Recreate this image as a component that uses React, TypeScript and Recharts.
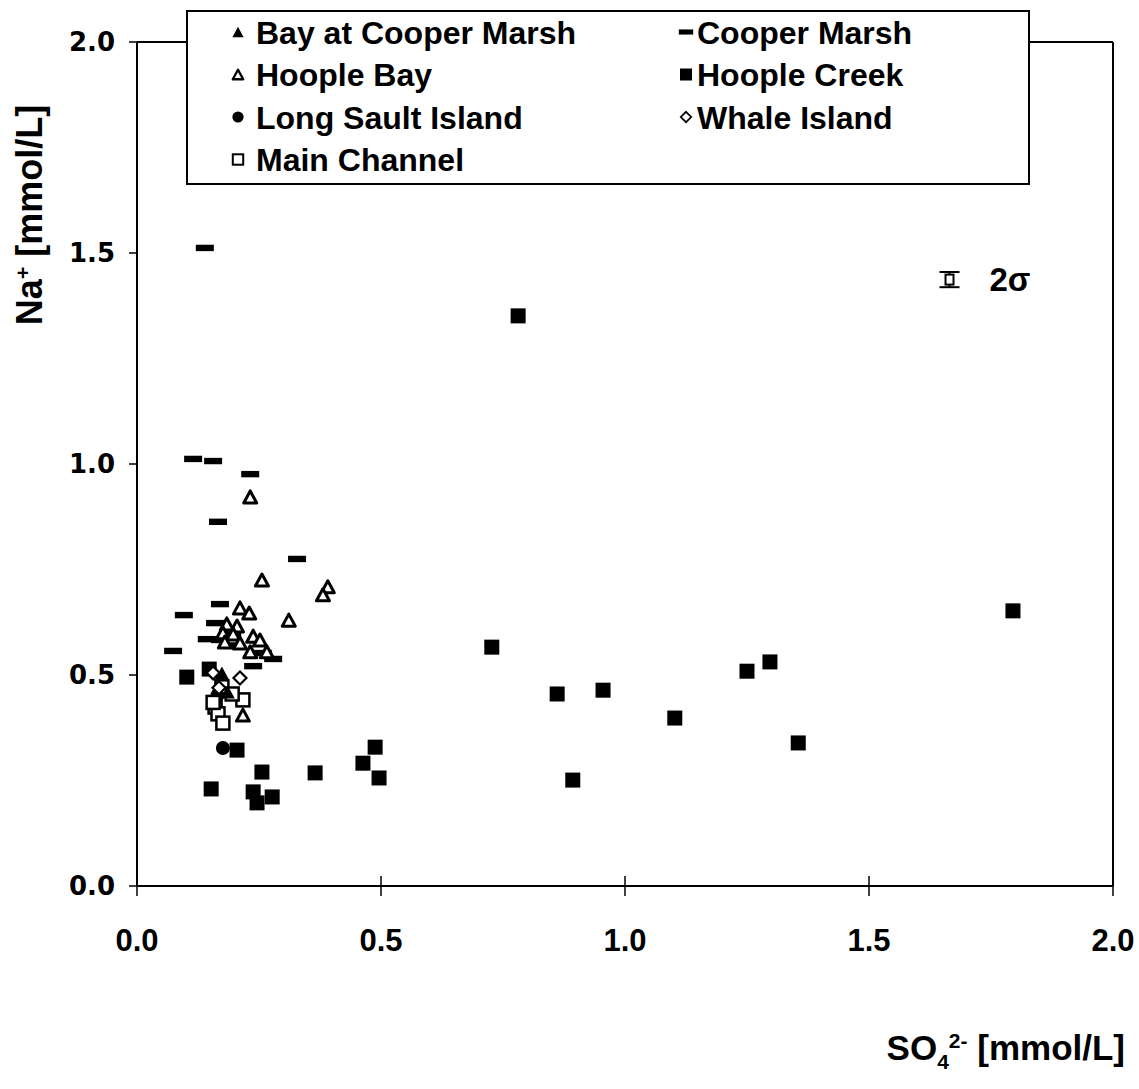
import React from "react";
import {
  ErrorBar,
  Label,
  Legend,
  ReferenceLine,
  Scatter,
  ScatterChart,
  XAxis,
  YAxis,
} from "recharts";

// ── data ──────────────────────────────────────────────────────────────────────
// [SO4 2-, Na+] pairs in mmol/L

const bayAtCooperMarsh: [number, number][] = [
  [0.174, 0.505], [0.186, 0.46],
];

const hoopleBay: [number, number][] = [
  [0.232, 0.922], [0.256, 0.725], [0.391, 0.709], [0.381, 0.69], [0.311, 0.63],
  [0.211, 0.659], [0.23, 0.647], [0.184, 0.621], [0.205, 0.616], [0.176, 0.6],
  [0.197, 0.597], [0.238, 0.592], [0.18, 0.578], [0.211, 0.576], [0.252, 0.583],
  [0.232, 0.555], [0.266, 0.555], [0.217, 0.405],
];

const longSaultIsland: [number, number][] = [
  [0.176, 0.327], [0.165, 0.452],
];

const mainChannel: [number, number][] = [
  [0.174, 0.472], [0.16, 0.424], [0.166, 0.408], [0.217, 0.441], [0.176, 0.386],
  [0.195, 0.455], [0.156, 0.435],
];

const cooperMarsh: [number, number][] = [
  [0.139, 1.512], [0.115, 1.012], [0.156, 1.007], [0.232, 0.976], [0.166, 0.863],
  [0.328, 0.775], [0.17, 0.668], [0.096, 0.642], [0.074, 0.557], [0.238, 0.521],
  [0.279, 0.538], [0.16, 0.623], [0.143, 0.585], [0.17, 0.583], [0.195, 0.6],
  [0.258, 0.552], [0.19, 0.57],
];

const hoopleCreek: [number, number][] = [
  [0.781, 1.351], [0.727, 0.566], [0.861, 0.455], [0.955, 0.464], [1.102, 0.398],
  [0.893, 0.251], [1.25, 0.509], [1.297, 0.531], [1.355, 0.339], [1.795, 0.652],
  [0.488, 0.329], [0.463, 0.291], [0.496, 0.256], [0.365, 0.268], [0.256, 0.27],
  [0.205, 0.322], [0.152, 0.23], [0.238, 0.223], [0.277, 0.211], [0.246, 0.197],
  [0.102, 0.495], [0.148, 0.514],
];

const whaleIsland: [number, number][] = [
  [0.156, 0.505], [0.211, 0.493], [0.168, 0.47],
];

// analytical uncertainty marker
const sigmaPoint = [{ x: 1.665, y: 1.437, err: 0.018 }];

const xTicks = [0, 0.5, 1, 1.5, 2];
const yTicks = [0, 0.5, 1, 1.5, 2];

const toPoints = (rows: [number, number][]) => rows.map(([x, y]) => ({ x, y }));

// ── markers ──────────────────────────────────────────────────────────────────

type Kind = "triFill" | "triOpen" | "dash" | "sqFill" | "sqOpen" | "circle" | "diamond";

function Marker({ kind, cx, cy, s = 1 }: { kind: Kind; cx: number; cy: number; s?: number }) {
  switch (kind) {
    case "triFill": {
      const w = 14 * s, h = 13 * s;
      return <polygon points={`${cx},${cy - h / 2} ${cx + w / 2},${cy + h / 2} ${cx - w / 2},${cy + h / 2}`} fill="#000" />;
    }
    case "triOpen": {
      const w = 13 * s, h = 12 * s;
      return (
        <polygon
          points={`${cx},${cy - h / 2} ${cx + w / 2},${cy + h / 2} ${cx - w / 2},${cy + h / 2}`}
          fill="#fff" stroke="#000" strokeWidth={3 * s} strokeLinejoin="round"
        />
      );
    }
    case "dash":
      return <rect x={cx - 9 * s} y={cy - 3.2 * s} width={18 * s} height={6.4 * s} fill="#000" />;
    case "sqFill":
      return <rect x={cx - 7.5 * s} y={cy - 7.5 * s} width={15 * s} height={15 * s} fill="#000" />;
    case "sqOpen":
      return (
        <rect x={cx - 6.5 * s} y={cy - 6.5 * s} width={13 * s} height={13 * s}
          fill="#fff" stroke="#000" strokeWidth={2.5 * s} />
      );
    case "circle":
      return <circle cx={cx} cy={cy} r={7 * s} fill="#000" />;
    case "diamond": {
      const r = 6.5 * s;
      return (
        <polygon points={`${cx},${cy - r} ${cx + r},${cy} ${cx},${cy + r} ${cx - r},${cy}`}
          fill="#fff" stroke="#000" strokeWidth={2.2 * s} />
      );
    }
  }
}

const shapeFor = (kind: Kind) => (p: any) => <Marker kind={kind} cx={p.cx} cy={p.cy} />;

const series: { name: string; kind: Kind; data: [number, number][] }[] = [
  { name: "Hoople Creek", kind: "sqFill", data: hoopleCreek },
  { name: "Cooper Marsh", kind: "dash", data: cooperMarsh },
  { name: "Long Sault Island", kind: "circle", data: longSaultIsland },
  { name: "Hoople Bay", kind: "triOpen", data: hoopleBay },
  { name: "Main Channel", kind: "sqOpen", data: mainChannel },
  { name: "Whale Island", kind: "diamond", data: whaleIsland },
  { name: "Bay at Cooper Marsh", kind: "triFill", data: bayAtCooperMarsh },
];

// legend columns, read top to bottom
const legendLeft = ["Bay at Cooper Marsh", "Hoople Bay", "Long Sault Island", "Main Channel"];
const legendRight = ["Cooper Marsh", "Hoople Creek", "Whale Island"];

const FONT = "'Liberation Sans', Arial, Helvetica, sans-serif";

function LegendBox() {
  const kindOf = (n: string) => series.find((s) => s.name === n)!.kind;
  const rowY = (i: number) => 20 + i * 42.5;
  const item = (n: string, i: number, iconX: number, textX: number) => (
    <g key={n}>
      <Marker kind={kindOf(n)} cx={iconX} cy={rowY(i)} s={0.8} />
      <text x={textX} y={rowY(i)} dy="0.36em" fontSize={32} fontWeight={700} fontFamily={FONT}>{n}</text>
    </g>
  );
  return (
    <div style={{ width: 844, height: 175, border: "2px solid #000", background: "#fff", boxSizing: "border-box" }}>
      <svg width={840} height={171} style={{ display: "block" }}>
        {legendLeft.map((n, i) => item(n, i, 50, 68))}
        {legendRight.map((n, i) => item(n, i, 498, 509))}
      </svg>
    </div>
  );
}

// x ticks cross the axis line
function XTick({ x, y, payload }: any) {
  const axisY = y - 45;
  return (
    <g>
      <line x1={x} x2={x} y1={axisY - 10} y2={axisY} stroke="#000" strokeWidth={1.5} />
      <text x={x} y={y - 2} dy="0.71em" textAnchor="middle" fontSize={31} fontWeight={700} fontFamily={FONT}>
        {Number(payload.value).toFixed(1)}
      </text>
    </g>
  );
}

export default function App() {
  return (
    <div style={{ position: "absolute", left: 0, top: 0, background: "#fff" }}>
      <ScatterChart width={1139} height={1089} margin={{ top: 42, right: 26, bottom: 143, left: 57 }}>
        <XAxis
          type="number"
          dataKey="x"
          domain={[0, 2]}
          ticks={xTicks}
          height={60}
          tickSize={10}
          tickMargin={35}
          tick={<XTick />}
          axisLine={{ stroke: "#000", strokeWidth: 2 }}
          tickLine={{ stroke: "#000", strokeWidth: 1.5 }}
        >
          <Label
            content={({ viewBox }: any) => (
              <text x={viewBox.x + viewBox.width + 12} y={viewBox.y + 174} textAnchor="end"
                fontSize={35} fontWeight={700} fontFamily={FONT}>
                SO<tspan dy={9} fontSize={21}>4</tspan>
                <tspan dy={-21} fontSize={21}>2-</tspan>
                <tspan dy={12}> [mmol/L]</tspan>
              </text>
            )}
          />
        </XAxis>
        <YAxis
          type="number"
          dataKey="y"
          domain={[0, 2]}
          ticks={yTicks}
          width={80}
          tickSize={8}
          tickMargin={14}
          tickFormatter={(v) => Number(v).toFixed(1)}
          tick={{ fill: "#000", fontSize: 26, fontWeight: 700, fontFamily: "'DejaVu Sans', sans-serif" }}
          axisLine={{ stroke: "#000", strokeWidth: 2 }}
          tickLine={{ stroke: "#000", strokeWidth: 1.5 }}
        >
          <Label
            content={() => (
              <text x={42} y={215} textAnchor="middle" transform="rotate(-90 42 215)"
                fontSize={36} fontWeight={700} fontFamily={FONT}>
                Na<tspan dy={-12} fontSize={21}>+</tspan>
                <tspan dy={12}> [mmol/L]</tspan>
              </text>
            )}
          />
        </YAxis>
        <ReferenceLine y={2} stroke="#000" strokeWidth={2} />
        <ReferenceLine x={2} stroke="#000" strokeWidth={2} />
        <Legend
          layout="horizontal"
          verticalAlign="middle"
          align="center"
          content={() => <LegendBox />}
          wrapperStyle={{ position: "absolute", left: 186, top: 10, width: 844, height: 175 }}
        />
        {series.map((s) => (
          <Scatter
            key={s.name}
            name={s.name}
            data={toPoints(s.data)}
            shape={shapeFor(s.kind)}
            isAnimationActive={false}
          />
        ))}
        <Scatter
          name="2σ"
          data={sigmaPoint}
          legendType="none"
          isAnimationActive={false}
          shape={(p: any) => (
            <g>
              <rect x={p.cx - 4} y={p.cy - 5} width={8} height={10} fill="#fff" stroke="#000" strokeWidth={2} />
              <text x={p.cx + 40} y={p.cy} dy="0.36em" fontSize={33} fontWeight={700} fontFamily={FONT}>2σ</text>
            </g>
          )}
        >
          <ErrorBar dataKey="err" direction="y" width={10} stroke="#000" strokeWidth={2} />
        </Scatter>
      </ScatterChart>
    </div>
  );
}
